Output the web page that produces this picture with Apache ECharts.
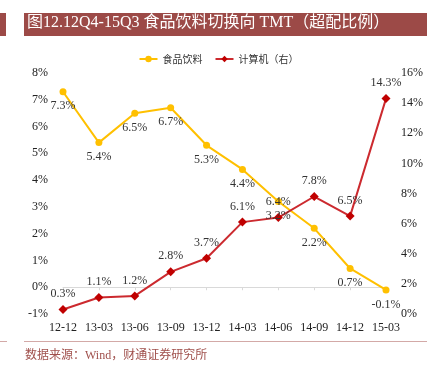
<!DOCTYPE html>
<html>
<head>
<meta charset="utf-8">
<script src="https://cdn.jsdelivr.net/npm/echarts@6/dist/echarts.min.js"></script>
<style>
html,body{margin:0;padding:0;background:#fff;}
#container{width:437px;height:367px;}
</style>
</head>
<body>
<div id="container"></div>
<script>
var months = ['12-12','13-03','13-06','13-09','13-12','14-03','14-06','14-09','14-12','15-03'];
var food = [7.3, 5.4, 6.5, 6.7, 5.3, 4.4, 3.2, 2.2, 0.7, -0.1];
var tmt = [0.3, 1.1, 1.2, 2.8, 3.7, 6.1, 6.4, 7.8, 6.5, 14.3];
var names = ['食品饮料', '计算机（右）'];

var serif = '"Liberation Serif", "Times New Roman", serif';
var cjk = '"Noto Sans CJK SC", sans-serif';

var myChart = echarts.init(document.getElementById('container'));
var option = {
    animation: false,
    backgroundColor: '#fff',
    graphic: [
        {type: 'rect', shape: {x: 0, y: 13, width: 6, height: 23}, style: {fill: '#9C4A47'}},
        {type: 'rect', shape: {x: 24, y: 13, width: 403, height: 23}, style: {fill: '#9C4A47'}},
        {type: 'text', left: 27, top: 15, style: {text: '图12.12Q4-15Q3 食品饮料切换向 TMT（超配比例）', fill: '#fff', font: '16px "Liberation Serif", "Noto Sans CJK SC", serif'}},
        {type: 'rect', shape: {x: 0, y: 341, width: 7, height: 1}, style: {fill: '#D3A9A7'}},
        {type: 'rect', shape: {x: 24, y: 341, width: 403, height: 1}, style: {fill: '#D3A9A7'}},
        {type: 'text', left: 25, top: 350, style: {text: '数据来源：Wind，财通证券研究所', fill: '#A0504C', font: '12px "Liberation Serif", "Noto Sans CJK SC", serif'}}
    ],
    legend: {
        data: names,
        top: 49,
        left: 'center',
        itemWidth: 18,
        itemHeight: 8,
        itemGap: 12,
        textStyle: {fontFamily: cjk, fontSize: 10, color: '#333'}
    },
    grid: {left: 63, right: 51, top: 73, bottom: 53, containLabel: false},
    xAxis: [
        {
            type: 'category',
            data: months,
            boundaryGap: false,
            position: 'bottom',
            axisLine: {show: false},
            axisTick: {show: false},
            axisLabel: {interval: 0, margin: 8, fontFamily: serif, fontSize: 12, color: '#222'}
        },
        {
            type: 'category',
            data: months,
            boundaryGap: false,
            position: 'bottom',
            axisLine: {show: true, onZero: true, onZeroAxisIndex: 0, lineStyle: {color: '#D9D9D9', width: 1}},
            axisTick: {show: true, interval: 0, length: 3, lineStyle: {color: '#D9D9D9'}},
            axisLabel: {show: false}
        }
    ],
    yAxis: [
        {
            type: 'value',
            min: -1, max: 8, interval: 1,
            splitLine: {show: false},
            axisLine: {show: false},
            axisTick: {show: false},
            axisLabel: {formatter: '{value}%', margin: 15, fontFamily: serif, fontSize: 12, color: '#222'}
        },
        {
            type: 'value',
            min: 0, max: 16, interval: 2,
            splitLine: {show: false},
            axisLine: {show: false},
            axisTick: {show: false},
            axisLabel: {formatter: '{value}%', margin: 15, fontFamily: serif, fontSize: 12, color: '#222'}
        }
    ],
    series: [
        {
            name: names[0],
            type: 'line',
            yAxisIndex: 0,
            data: food,
            symbol: 'circle',
            symbolSize: 7,
            itemStyle: {color: '#FFC000'},
            lineStyle: {color: '#FFC000', width: 2},
            label: {show: true, position: 'bottom', distance: 5, formatter: function(p){ return p.value.toFixed(1) + '%'; }, fontFamily: serif, fontSize: 12, color: '#333'}
        },
        {
            name: names[1],
            type: 'line',
            yAxisIndex: 1,
            data: tmt,
            symbol: 'diamond',
            symbolSize: 9,
            itemStyle: {color: '#C00000'},
            lineStyle: {color: '#CC2A2F', width: 2},
            label: {show: true, position: 'top', distance: 5, formatter: function(p){ return p.value.toFixed(1) + '%'; }, fontFamily: serif, fontSize: 12, color: '#333'}
        }
    ]
};
myChart.setOption(option);
</script>
</body>
</html>
